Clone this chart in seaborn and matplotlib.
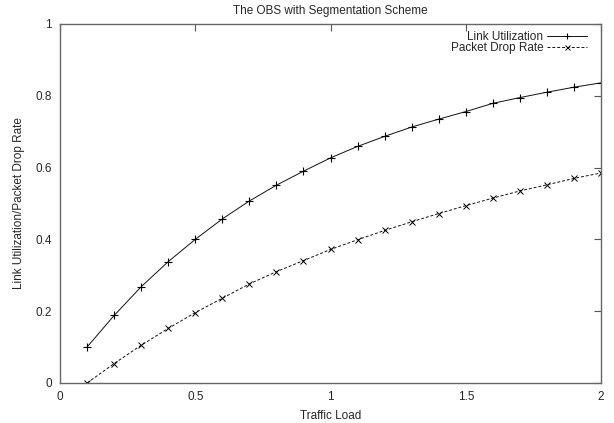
from matplotlib import pyplot as plt
import seaborn as sns
import pandas as pd

traffic_load = [0.1, 0.2, 0.3, 0.4, 0.5, 0.6, 0.7, 0.8, 0.9, 1.0,
                1.1, 1.2, 1.3, 1.4, 1.5, 1.6, 1.7, 1.8, 1.9, 2.0]
link_utilization = [0.100, 0.188, 0.268, 0.338, 0.400, 0.457, 0.507, 0.551, 0.590, 0.627,
                    0.659, 0.687, 0.713, 0.735, 0.756, 0.779, 0.795, 0.810, 0.824, 0.836]
packet_drop_rate = [0.000, 0.054, 0.105, 0.152, 0.196, 0.236, 0.276, 0.310, 0.341, 0.372,
                    0.399, 0.425, 0.449, 0.472, 0.494, 0.515, 0.535, 0.552, 0.570, 0.585]

df = pd.DataFrame({
    'load': traffic_load,
    'Link Utilization': link_utilization,
    'Packet Drop Rate': packet_drop_rate,
})

sns.set_style('white')
plt.rcParams['font.family'] = ['Liberation Sans', 'DejaVu Sans']
plt.rcParams['font.size'] = 8.5

fig = plt.figure(figsize=(6.14, 4.23), dpi=100)
ax = fig.add_axes([0.0977, 0.0946, 0.8813, 0.8487])

sns.lineplot(data=df, x='load', y='Link Utilization', ax=ax, color='#111111',
             linewidth=0.7, marker='+', markersize=6, markeredgewidth=0.8,
             markeredgecolor='black', label='Link Utilization')
sns.lineplot(data=df, x='load', y='Packet Drop Rate', ax=ax, color='#111111',
             linewidth=0.7, linestyle=(0, (3, 2)), marker='x', markersize=4.5,
             markeredgewidth=0.7, markeredgecolor='black',
             label='Packet Drop Rate')

ax.set_xlim(0, 2)
ax.set_ylim(0, 1)
ax.set_xticks([0, 0.5, 1, 1.5, 2])
ax.set_xticklabels(['0', '0.5', '1', '1.5', '2'])
ax.set_yticks([0, 0.2, 0.4, 0.6, 0.8, 1])
ax.set_yticklabels(['0', '0.2', '0.4', '0.6', '0.8', '1'])
ax.tick_params(direction='in', length=5, width=0.8, color='#555555',
               top=True, right=True, labelsize=8.5, pad=6)
for s in ax.spines.values():
    s.set_color('#666666')
    s.set_linewidth(1)

ax.set_title('The OBS with Segmentation Scheme', fontsize=8.5, pad=7)
ax.set_xlabel('Traffic Load', fontsize=8.5, labelpad=5)
ax.set_ylabel('Link Utilization/Packet Drop Rate', fontsize=8.5, labelpad=7)

ax.legend(loc='upper right', frameon=False, markerfirst=False, fontsize=8.5,
          handlelength=3.4, handletextpad=0.3, labelspacing=-0.05,
          borderaxespad=0.3, bbox_to_anchor=(0.989, 1.004), markerscale=0.8)

plt.savefig('out.png', dpi=100)
plt.close()
